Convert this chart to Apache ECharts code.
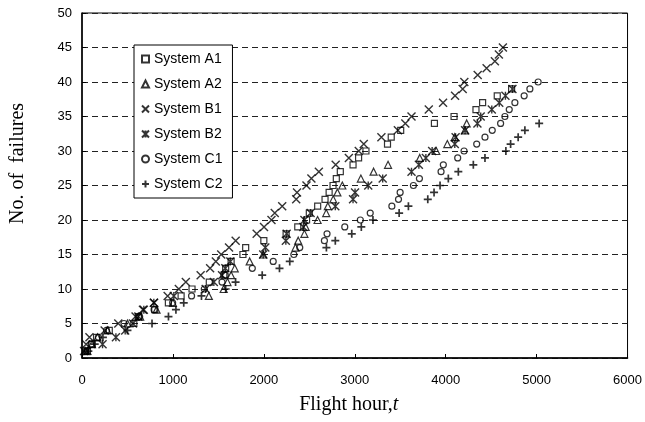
<!DOCTYPE html>
<html>
<head>
<meta charset="utf-8">
<script src="https://cdn.jsdelivr.net/npm/echarts@6/dist/echarts.min.js"></script>
<style>
  html, body { margin: 0; padding: 0; background: #fff; }
  #chart { width: 645px; height: 422px; }
</style>
</head>
<body>
<div id="chart"></div>
<script>
// -------------------------- 数据（[飞行小时, 累计故障数]） --------------------------
const systemA1 = [[60,1],[110,2],[160,3],[300,4],[570,5],[620,6],[800,7],[950,8],[1090,9],[1210,10],[1400,11],[1560,12],[1580,13],[1640,14],[1770,15],[1800,16],[2000,17],[2245,18],[2373,19],[2470,20],[2500,21],[2592,22],[2673,23],[2718,24],[2761,25],[2797,26],[2841,27],[2981,28],[3042,29],[3123,30],[3360,31],[3401,32],[3505,33],[3876,34],[4092,35],[4333,36],[4406,37],[4567,38],[4725,39]];
const systemA2 = [[40,1],[110,2],[170,3],[280,4],[500,5],[640,6],[820,7],[1000,8],[1395,9],[1558,10],[1600,11],[1640,12],[1680,13],[1844,14],[1993,15],[2348,16],[2378,17],[2446,18],[2460,19],[2591,20],[2686,21],[2704,22],[2763,23],[2809,24],[2863,25],[3067,26],[3207,27],[3366,28],[3715,29],[3896,30],[4018,31],[4100,32],[4212,33],[4231,34]];
const systemB1 = [[23,1],[45,2],[82,3],[249,4],[399,5],[589,6],[670,7],[793,8],[942,9],[1065,10],[1142,11],[1305,12],[1409,13],[1472,14],[1531,15],[1617,16],[1690,17],[1921,18],[2002,19],[2084,20],[2120,21],[2202,22],[2356,23],[2365,24],[2469,25],[2523,26],[2605,27],[2790,28],[2935,29],[3044,30],[3099,31],[3293,32],[3474,33],[3556,34],[3624,35],[3814,36],[3971,37],[4103,38],[4187,39],[4205,40],[4352,41],[4450,42],[4541,43],[4585,44],[4629,45]];
const systemB2 = [[59,1],[226,2],[373,3],[475,4],[560,5],[620,6],[680,7],[790,8],[1010,9],[1360,10],[1450,11],[1540,12],[1576,13],[1631,14],[1993,15],[2016,16],[2242,17],[2251,18],[2435,19],[2446,20],[2514,21],[2786,22],[2981,23],[3003,24],[3148,25],[3307,26],[3624,27],[3705,28],[3782,29],[3851,30],[4100,31],[4109,32],[4213,33],[4349,34],[4385,35],[4507,36],[4589,37],[4657,38],[4734,39]];
const systemC1 = [[40,1],[100,2],[180,3],[270,4],[462,5],[634,6],[793,7],[997,8],[1205,9],[1345,10],[1540,11],[1576,12],[1873,13],[2103,14],[2330,15],[2395,16],[2666,17],[2695,18],[2890,19],[3061,20],[3170,21],[3408,22],[3481,23],[3499,24],[3645,25],[3711,26],[3949,27],[3974,28],[4132,29],[4202,30],[4341,31],[4432,32],[4512,33],[4604,34],[4651,35],[4699,36],[4761,37],[4863,38],[4926,39],[5017,40]];
const systemC2 = [[70,1],[140,2],[230,3],[500,4],[770,5],[951,6],[1033,7],[1119,8],[1314,9],[1580,10],[1689,11],[1982,12],[2172,13],[2285,14],[2688,16],[2786,17],[2967,18],[3072,19],[3200,20],[3488,21],[3590,22],[3803,23],[3872,24],[3938,25],[4029,26],[4139,27],[4304,28],[4432,29],[4662,30],[4714,31],[4797,32],[4871,33],[5028,34]];

const seriesNames = ['System A1', 'System A2', 'System B1', 'System B2', 'System C1', 'System C2'];
const xTicks = { min: 0, max: 6000, interval: 1000 };
const yTicks = { min: 0, max: 50, interval: 5 };

// -------------------------- 标记样式 --------------------------
const markers = [
  { symbol: 'rect', size: 6, width: 1.2 },
  { symbol: 'triangle', size: 7, width: 1.2 },
  { symbol: 'path://M0,0L10,10M10,0L0,10', size: 8, width: 1.4 },
  { symbol: 'path://M0,0L10,10M10,0L0,10M5,0L5,10', size: 8, width: 1.4 },
  { symbol: 'circle', size: 6, width: 1.2 },
  { symbol: 'path://M5,0L5,10M0,5L10,5', size: 8, width: 1.7 }
];
const allData = [systemA1, systemA2, systemB1, systemB2, systemC1, systemC2];

const serif = 'Liberation Serif, Times New Roman, serif';
const chart = echarts.init(document.getElementById('chart'));

const option = {
  backgroundColor: '#fff',
  animation: false,
  textStyle: { fontFamily: 'Liberation Sans, Arial, sans-serif', color: '#000' },
  grid: {
    left: 81, right: 17, top: 13, bottom: 64,
    show: true, borderColor: '#000', borderWidth: 1
  },
  legend: {
    orient: 'vertical',
    left: 134, top: 45,
    padding: [7, 10, 7, 7],
    itemGap: 11,
    itemWidth: 7, itemHeight: 7,
    backgroundColor: '#fff',
    borderColor: '#000', borderWidth: 1,
    textStyle: { fontSize: 14, color: '#000', fontFamily: 'Liberation Sans, Arial, sans-serif' },
    data: seriesNames
  },
  xAxis: {
    type: 'value',
    min: xTicks.min, max: xTicks.max, interval: xTicks.interval,
    name: 'Flight hour,{i|t}',
    nameLocation: 'middle',
    nameGap: 37,
    nameTextStyle: {
      fontFamily: serif, fontSize: 20, color: '#000', padding: [0, 12, 0, 0],
      rich: { i: { fontFamily: serif, fontSize: 20, fontStyle: 'italic', color: '#000' } }
    },
    axisLine: { lineStyle: { color: '#000', width: 1.5 } },
    axisTick: { inside: true, length: 4, lineStyle: { color: '#000' } },
    axisLabel: { fontSize: 13, color: '#000', margin: 16, formatter: (v) => String(v) },
    splitLine: { show: false }
  },
  yAxis: {
    type: 'value',
    min: yTicks.min, max: yTicks.max, interval: yTicks.interval,
    name: 'No. of  failures',
    nameLocation: 'middle',
    nameGap: 54,
    nameTextStyle: { fontFamily: serif, fontSize: 20, color: '#000', padding: [0, 0, 0, 44] },
    axisLine: { show: true, lineStyle: { color: '#000', width: 1.5 } },
    axisTick: { show: true, inside: true, length: 4, lineStyle: { color: '#000' } },
    axisLabel: { fontSize: 13, color: '#000', margin: 10 },
    splitLine: { show: true, lineStyle: { color: '#222', width: 1, type: [6, 4] } }
  },
  series: allData.map((d, i) => ({
    name: seriesNames[i],
    type: 'scatter',
    symbol: markers[i].symbol,
    symbolSize: markers[i].size,
    itemStyle: { color: 'rgba(0,0,0,0)', borderColor: '#000', borderWidth: markers[i].width },
    data: d
  }))
};

chart.setOption(option);
</script>
</body>
</html>
